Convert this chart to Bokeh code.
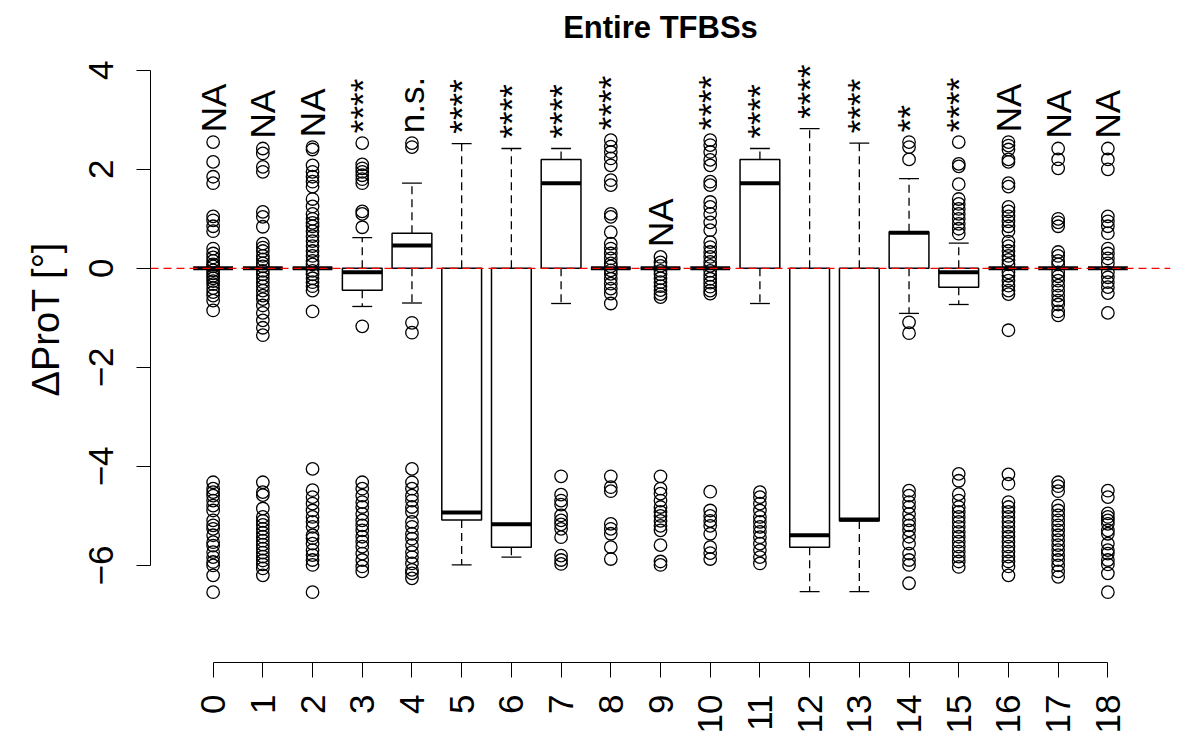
import math
from bokeh.plotting import figure
from bokeh.models import Range1d, FixedTicker, Span, ColumnDataSource, Title
from bokeh.core.properties import value
from bokeh.embed import file_html
from bokeh.resources import INLINE

# ---------------- data ----------------
categories = list(range(19))
tick_labels = [str(c) for c in categories]

q1 = [0, 0, 0, -0.44, 0.00, -5.08, -5.63, 0.00, 0, 0, 0, 0.00, -5.63, -5.10, 0.00, -0.38, 0, 0, 0]
med = [0, 0, 0, -0.08, 0.46, -4.93, -5.17, 1.72, 0, 0, 0, 1.72, -5.39, -5.07, 0.72, -0.08, 0, 0, 0]
q3 = [0, 0, 0, 0.00, 0.71, 0.00, 0.00, 2.20, 0, 0, 0, 2.20, 0.00, 0.00, 0.74, 0.00, 0, 0, 0]
whisk_lo = [0, 0, 0, -0.77, -0.70, -5.99, -5.83, -0.71, 0, 0, 0, -0.71, -6.53, -6.53, -0.91, -0.73, 0, 0, 0]
whisk_hi = [0, 0, 0, 0.62, 1.72, 2.52, 2.42, 2.42, 0, 0, 0, 2.42, 2.82, 2.53, 1.81, 0.51, 0, 0, 0]

significance = ["NA", "NA", "NA", "****", "n.s.", "****", "****", "****", "****", "NA",
                "****", "****", "****", "****", "**", "****", "NA", "NA", "NA"]

out0 = [2.55, 2.15, 1.85, 1.72, 1.05, 0.97, 0.85, 0.75, 0.40, 0.30, 0.22, 0.15, 0.08, 0.04,
        -0.04, -0.10, -0.15, -0.20, -0.26, -0.32, -0.40, -0.48, -0.55, -0.65, -0.85,
        -4.32, -4.45, -4.52, -4.59, -4.69, -4.79, -4.89, -5.09, -5.19, -5.26, -5.39, -5.53,
        -5.60, -5.73, -5.83, -5.93, -6.00, -6.20, -6.54]
out1 = [2.42, 2.32, 2.05, 1.95, 1.14, 1.04, 0.84, 0.50, 0.42, 0.35, 0.25, 0.18, 0.10, 0.04,
        -0.05, -0.12, -0.20, -0.28, -0.36, -0.45, -0.55, -0.62, -0.75, -0.90, -1.05, -1.20, -1.35,
        -4.32, -4.52, -4.58, -4.85, -5.02, -5.10, -5.18, -5.26, -5.34, -5.42, -5.50, -5.58,
        -5.66, -5.74, -5.82, -5.90, -5.98, -6.06, -6.20]
out2 = [2.45, 2.40, 2.08, 1.95, 1.85, 1.75, 1.65, 1.40, 1.25, 1.10, 1.00, 0.92, 0.85, 0.75,
        0.65, 0.55, 0.45, 0.35, 0.25, 0.15, 0.08, -0.05, -0.12, -0.20, -0.28, -0.36, -0.45, -0.87,
        -4.05, -4.48, -4.62, -4.75, -4.89, -5.02, -5.12, -5.22, -5.39, -5.45, -5.56, -5.69,
        -5.79, -5.89, -5.99, -6.54]
out3 = [2.53, 2.10, 2.02, 1.95, 1.88, 1.80, 1.72, 1.15, 1.10, 0.83, -1.17,
        -4.32, -4.45, -4.59, -4.72, -4.82, -4.96, -5.09, -5.19, -5.29, -5.42, -5.52, -5.62,
        -5.76, -5.89, -6.02, -6.12]
out4 = [2.53, 2.45, -1.10, -1.30,
        -4.05, -4.32, -4.45, -4.59, -4.69, -4.82, -4.92, -5.12, -5.22, -5.36, -5.46, -5.59,
        -5.73, -5.83, -5.96, -6.09, -6.16, -6.26]
out5 = []
out6 = []
out7 = [-4.20, -4.57, -4.69, -4.77, -4.99, -5.09, -5.17, -5.26, -5.43, -5.80, -5.89, -5.97]
out8 = [2.59, 2.46, 2.35, 2.22, 2.08, 1.78, 1.68, 1.10, 1.04, 0.73, 0.50, 0.40, 0.30, 0.20,
        0.10, 0.04, -0.04, -0.11, -0.21, -0.31, -0.41, -0.51, -0.71,
        -4.20, -4.42, -4.50, -5.16, -5.26, -5.36, -5.63, -5.87]
out9 = [0.23, 0.12, 0.05, -0.05, -0.12, -0.20, -0.28, -0.36, -0.44, -0.52, -0.58,
        -4.20, -4.45, -4.55, -4.69, -4.82, -4.92, -5.00, -5.10, -5.20, -5.29, -5.59, -5.92, -5.99]
out10 = [2.59, 2.49, 2.35, 2.19, 2.08, 1.75, 1.68, 1.34, 1.24, 1.10, 0.93, 0.77, 0.53, 0.43,
         0.33, 0.23, 0.13, 0.05, -0.05, -0.13, -0.21, -0.29, -0.37, -0.45, -0.51,
         -4.51, -4.89, -5.00, -5.10, -5.20, -5.36, -5.63, -5.75, -5.87]
out11 = [-4.52, -4.62, -4.75, -4.89, -5.02, -5.12, -5.22, -5.32, -5.43, -5.56, -5.69, -5.83, -5.96]
out12 = []
out13 = []
out14 = [2.55, 2.45, 2.20, -1.09, -1.31,
         -4.49, -4.59, -4.72, -4.82, -4.96, -5.09, -5.19, -5.29, -5.42, -5.56, -5.76, -5.89,
         -5.99, -6.36]
out15 = [2.55, 2.11, 2.06, 1.70, 1.40, 1.30, 1.20, 1.10, 1.00, 0.90, 0.80, 0.70,
         -4.15, -4.29, -4.56, -4.69, -4.82, -4.92, -5.02, -5.12, -5.22, -5.32, -5.42, -5.52,
         -5.62, -5.72, -5.82, -5.92, -6.03]
out16 = [2.55, 2.48, 2.40, 2.20, 2.15, 1.72, 1.65, 1.24, 1.15, 1.05, 0.95, 0.85, 0.75, 0.54,
         0.45, 0.35, 0.25, 0.17, 0.08, -0.08, -0.15, -0.25, -0.35, -0.45, -0.52, -1.25,
         -4.16, -4.35, -4.72, -4.82, -4.92, -5.02, -5.12, -5.22, -5.32, -5.42, -5.52, -5.62,
         -5.72, -5.82, -5.92, -6.02, -6.20]
out17 = [2.42, 2.20, 2.02, 1.00, 0.93, 0.85, 0.33, 0.25, 0.15, 0.08, -0.08, -0.16, -0.25,
         -0.35, -0.45, -0.55, -0.65, -0.73, -0.87, -0.95,
         -4.32, -4.40, -4.50, -4.79, -4.89, -4.99, -5.09, -5.19, -5.29, -5.39, -5.49, -5.59,
         -5.69, -5.79, -5.89, -6.00, -6.12, -6.23]
out18 = [2.42, 2.20, 2.00, 1.05, 0.95, 0.85, 0.71, 0.40, 0.30, 0.20, 0.10, -0.08, -0.18,
         -0.28, -0.38, -0.50, -0.90,
         -4.49, -4.62, -4.95, -5.02, -5.09, -5.16, -5.29, -5.36, -5.56, -5.69, -5.76, -5.89,
         -5.98, -6.16, -6.54]

outliers = [out0, out1, out2, out3, out4, out5, out6, out7, out8, out9,
            out10, out11, out12, out13, out14, out15, out16, out17, out18]

y_title = "ΔProT [°]"
main_title = "Entire TFBSs"

# ---------------- styling constants ----------------
FONT = "Liberation Sans"
BOX_W = 0.8
STAPLE_W = 0.4
DASH = "8 5"

# ---------------- figure ----------------
p = figure(width=1200, height=750, output_backend="svg", toolbar_location=None,
           x_range=Range1d(-1.26, 19.26), y_range=Range1d(-7.96, 4.46),
           min_border_left=150, min_border_right=30, min_border_top=47, min_border_bottom=88,
           title=main_title)
p.outline_line_color = None
p.grid.visible = False
p.background_fill_color = "white"
p.border_fill_color = "white"

p.title.align = "center"
p.title.text_font = FONT
p.title.text_font_size = "31px"
p.title.text_font_style = "bold"
p.title.text_color = "black"
p.title.standoff = 6

# boxes
src = ColumnDataSource(dict(
    x=categories, q1=q1, med=med, q3=q3, lo=whisk_lo, hi=whisk_hi,
    left=[c - BOX_W / 2 for c in categories], right=[c + BOX_W / 2 for c in categories],
    sl=[c - STAPLE_W / 2 for c in categories], sr=[c + STAPLE_W / 2 for c in categories],
))

# whiskers (dashed)
p.segment(x0="x", y0="q3", x1="x", y1="hi", source=src, line_color="black",
          line_width=1.3, line_dash=DASH)
p.segment(x0="x", y0="q1", x1="x", y1="lo", source=src, line_color="black",
          line_width=1.3, line_dash=DASH)
# staples
p.segment(x0="sl", y0="hi", x1="sr", y1="hi", source=src, line_color="black", line_width=1.3)
p.segment(x0="sl", y0="lo", x1="sr", y1="lo", source=src, line_color="black", line_width=1.3)
# box
p.quad(left="left", right="right", bottom="q1", top="q3", source=src,
       fill_color=None, line_color="black", line_width=1.5)
# median
p.segment(x0="left", y0="med", x1="right", y1="med", source=src, line_color="black",
          line_width=4)

# outliers
ox, oy = [], []
for c, vals in zip(categories, outliers):
    ox += [c] * len(vals)
    oy += vals
p.scatter(x=ox, y=oy, marker="circle", size=12.5, fill_color=None,
          line_color="black", line_width=1.3)

# significance labels above each group
top_vals = [max([h] + [v for v in vals]) for h, vals in zip(whisk_hi, outliers)]
lab_src = ColumnDataSource(dict(x=categories, y=[t + 0.2 for t in top_vals], text=significance))
p.text(x="x", y="y", text="text", source=lab_src, angle=math.pi / 2,
       text_align="left", text_baseline="middle", text_font=value(FONT),
       text_font_size="35px", text_color="black")

# zero reference line
p.add_layout(Span(location=0, dimension="width", line_color="red", line_width=1.3,
                  line_dash=DASH))

# axes
xa = p.xaxis[0]
xa.ticker = FixedTicker(ticks=categories)
xa.major_label_overrides = {c: l for c, l in zip(categories, tick_labels)}
xa.bounds = (0, 18)
xa.major_label_orientation = math.pi / 2
xa.major_tick_out = 15
xa.major_tick_in = 0
xa.minor_tick_out = 0
xa.minor_tick_in = 0
xa.major_label_standoff = 17
xa.major_label_text_font = FONT
xa.major_label_text_font_size = "35px"
xa.major_label_text_color = "black"
xa.axis_line_color = "black"
xa.major_tick_line_color = "black"

ya = p.yaxis[0]
ya.ticker = FixedTicker(ticks=[-6, -4, -2, 0, 2, 4])
ya.bounds = (-6, 4)
ya.major_label_orientation = "vertical"
ya.major_tick_out = 14
ya.major_tick_in = 0
ya.minor_tick_out = 0
ya.minor_tick_in = 0
ya.major_label_standoff = 23
ya.major_label_text_font = FONT
ya.major_label_text_font_size = "35px"
ya.major_label_text_color = "black"
ya.axis_line_color = "black"
ya.major_tick_line_color = "black"

# y-axis title as a side title so it can be positioned along the axis
yt = Title(text=y_title, align="left", offset=266, vertical_align="middle",
           text_font=FONT, text_font_size="38px", text_font_style="normal",
           text_color="black", standoff=37)
p.add_layout(yt, "left")

open("out.html", "w").write(file_html(p, INLINE))
